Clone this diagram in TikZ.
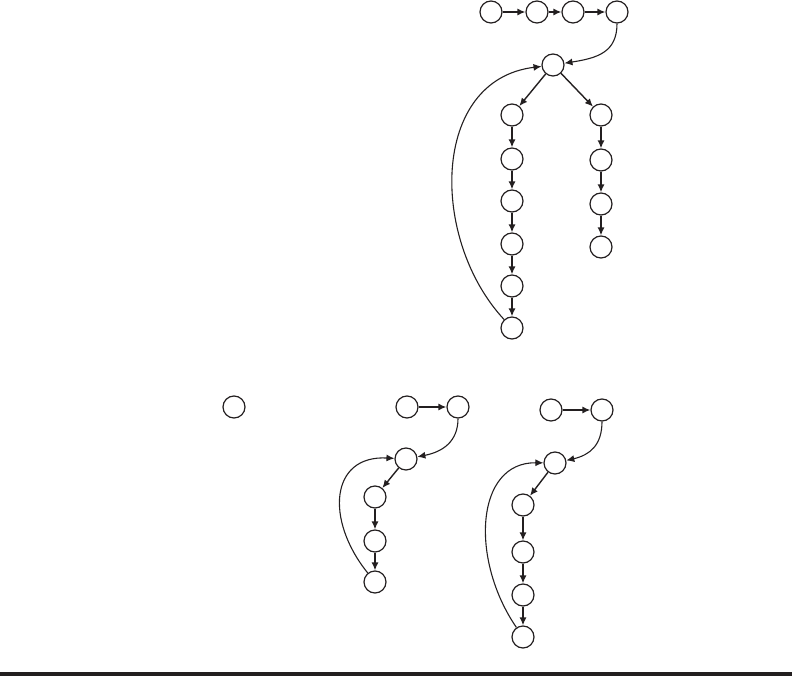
\documentclass[tikz,border=0pt]{standalone}
\usetikzlibrary{arrows.meta}
\definecolor{ink}{HTML}{231F20}
\begin{document}
\begin{tikzpicture}[x=1pt,y=-1pt,
  vtx/.style={circle,draw=ink,line width=1.2pt,minimum size=22pt,inner sep=0pt},
  edge/.style={draw=ink,line width=1.4pt,-{Latex[length=8pt,width=7pt]}},
  back/.style={draw=ink,line width=1.1pt,-{Latex[length=8pt,width=7pt]}}]
\useasboundingbox (0,0) rectangle (792,676);
% bottom rule
\fill[ink] (0,672) rectangle (792,676);
% top structure
\node[vtx] (t1) at (491,12) {};
\node[vtx] (t2) at (537,12) {};
\node[vtx] (t3) at (573,12) {};
\node[vtx] (t4) at (617,12) {};
\node[vtx] (r) at (553,65) {};
\node[vtx] (l1) at (512,115) {};
\node[vtx] (l2) at (512,159) {};
\node[vtx] (l3) at (512,201) {};
\node[vtx] (l4) at (512,244) {};
\node[vtx] (l5) at (512,286) {};
\node[vtx] (l6) at (512,328) {};
\node[vtx] (q1) at (601,115) {};
\node[vtx] (q2) at (601,160) {};
\node[vtx] (q3) at (601,204) {};
\node[vtx] (q4) at (601,247) {};
\draw[edge] (t1) -- (t2);
\draw[edge] (t2) -- (t3);
\draw[edge] (t3) -- (t4);
\draw[back] (t4) .. controls (617,52) and (598,58) .. (r);
\draw[edge] (r) -- (l1);
\draw[edge] (r) -- (q1);
\draw[edge] (l1) -- (l2);
\draw[edge] (l2) -- (l3);
\draw[edge] (l3) -- (l4);
\draw[edge] (l4) -- (l5);
\draw[edge] (l5) -- (l6);
\draw[edge] (q1) -- (q2);
\draw[edge] (q2) -- (q3);
\draw[edge] (q3) -- (q4);
\draw[back] (l6) .. controls (430,240) and (430,80) .. (r);
% lone node
\node[vtx] (s) at (234,407) {};
% middle group
\node[vtx] (a1) at (407,407) {};
\node[vtx] (a2) at (458,407) {};
\node[vtx] (ar) at (406,459) {};
\node[vtx] (ac1) at (375,497) {};
\node[vtx] (ac2) at (375,541) {};
\node[vtx] (ac3) at (375,582) {};
\draw[edge] (a1) -- (a2);
\draw[back] (a2) .. controls (458,442) and (442,452) .. (ar);
\draw[edge] (ar) -- (ac1);
\draw[edge] (ac1) -- (ac2);
\draw[edge] (ac2) -- (ac3);
\draw[back] (ac3) .. controls (325,520) and (330,455) .. (ar);
% right group
\node[vtx] (b1) at (551,410) {};
\node[vtx] (b2) at (602,410) {};
\node[vtx] (br) at (555,463) {};
\node[vtx] (bc1) at (523,505) {};
\node[vtx] (bc2) at (523,552) {};
\node[vtx] (bc3) at (523,595) {};
\node[vtx] (bc4) at (523,637) {};
\draw[edge] (b1) -- (b2);
\draw[back] (b2) .. controls (602,445) and (590,455) .. (br);
\draw[edge] (br) -- (bc1);
\draw[edge] (bc1) -- (bc2);
\draw[edge] (bc2) -- (bc3);
\draw[edge] (bc3) -- (bc4);
\draw[back] (bc4) .. controls (470,560) and (475,462) .. (br);
\end{tikzpicture}
\end{document}
